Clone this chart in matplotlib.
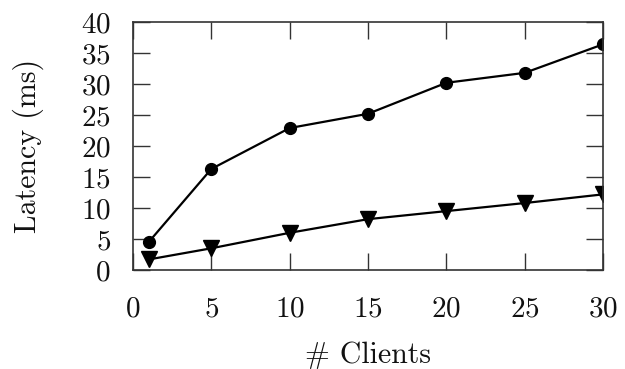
import matplotlib
matplotlib.use("Agg")
import matplotlib.pyplot as plt

# data
clients = [1, 5, 10, 15, 20, 25, 30]
latency_circle = [4.5, 16.3, 22.9, 25.2, 30.2, 31.8, 36.4]
latency_triangle = [1.7, 3.5, 6.0, 8.2, 9.5, 10.8, 12.2]

x_ticks = [0, 5, 10, 15, 20, 25, 30]
y_ticks = [0, 5, 10, 15, 20, 25, 30, 35, 40]

plt.rcParams["font.family"] = ["cmr10", "DejaVu Serif"]
plt.rcParams["axes.formatter.use_mathtext"] = True
plt.rcParams["mathtext.fontset"] = "cm"

fig = plt.figure(figsize=(6.25, 3.69), dpi=100)
ax = fig.add_axes([0.2128, 0.2683, 0.752, 0.672])

ax.plot(clients, latency_circle, color="black", lw=1.6, marker="o", ms=8.5)
ax.plot(clients, latency_triangle, color="black", lw=1.6, marker="v", ms=11.5)

ax.set_xlim(0, 30)
ax.set_ylim(0, 40)
ax.set_xticks(x_ticks)
ax.set_yticks(y_ticks)
ax.tick_params(direction="in", top=True, right=True, length=12.5, width=1,
               labelsize=21, color="#333333", labelcolor="#111111")
ax.tick_params(axis="x", pad=19)
ax.tick_params(axis="y", pad=16)
for s in ax.spines.values():
    s.set_linewidth(1.2)
    s.set_color("#333333")

ax.set_xlabel("# Clients", fontsize=21.5, color="#111111")
ax.set_ylabel("Latency (ms)", fontsize=21.5, color="#111111")
ax.xaxis.set_label_coords(0.5, -0.343)
ax.xaxis.label.set_verticalalignment("center")
ax.yaxis.set_label_coords(-0.2234, 0.5)
ax.yaxis.label.set_verticalalignment("center")

fig.savefig("out.png", dpi=100)
